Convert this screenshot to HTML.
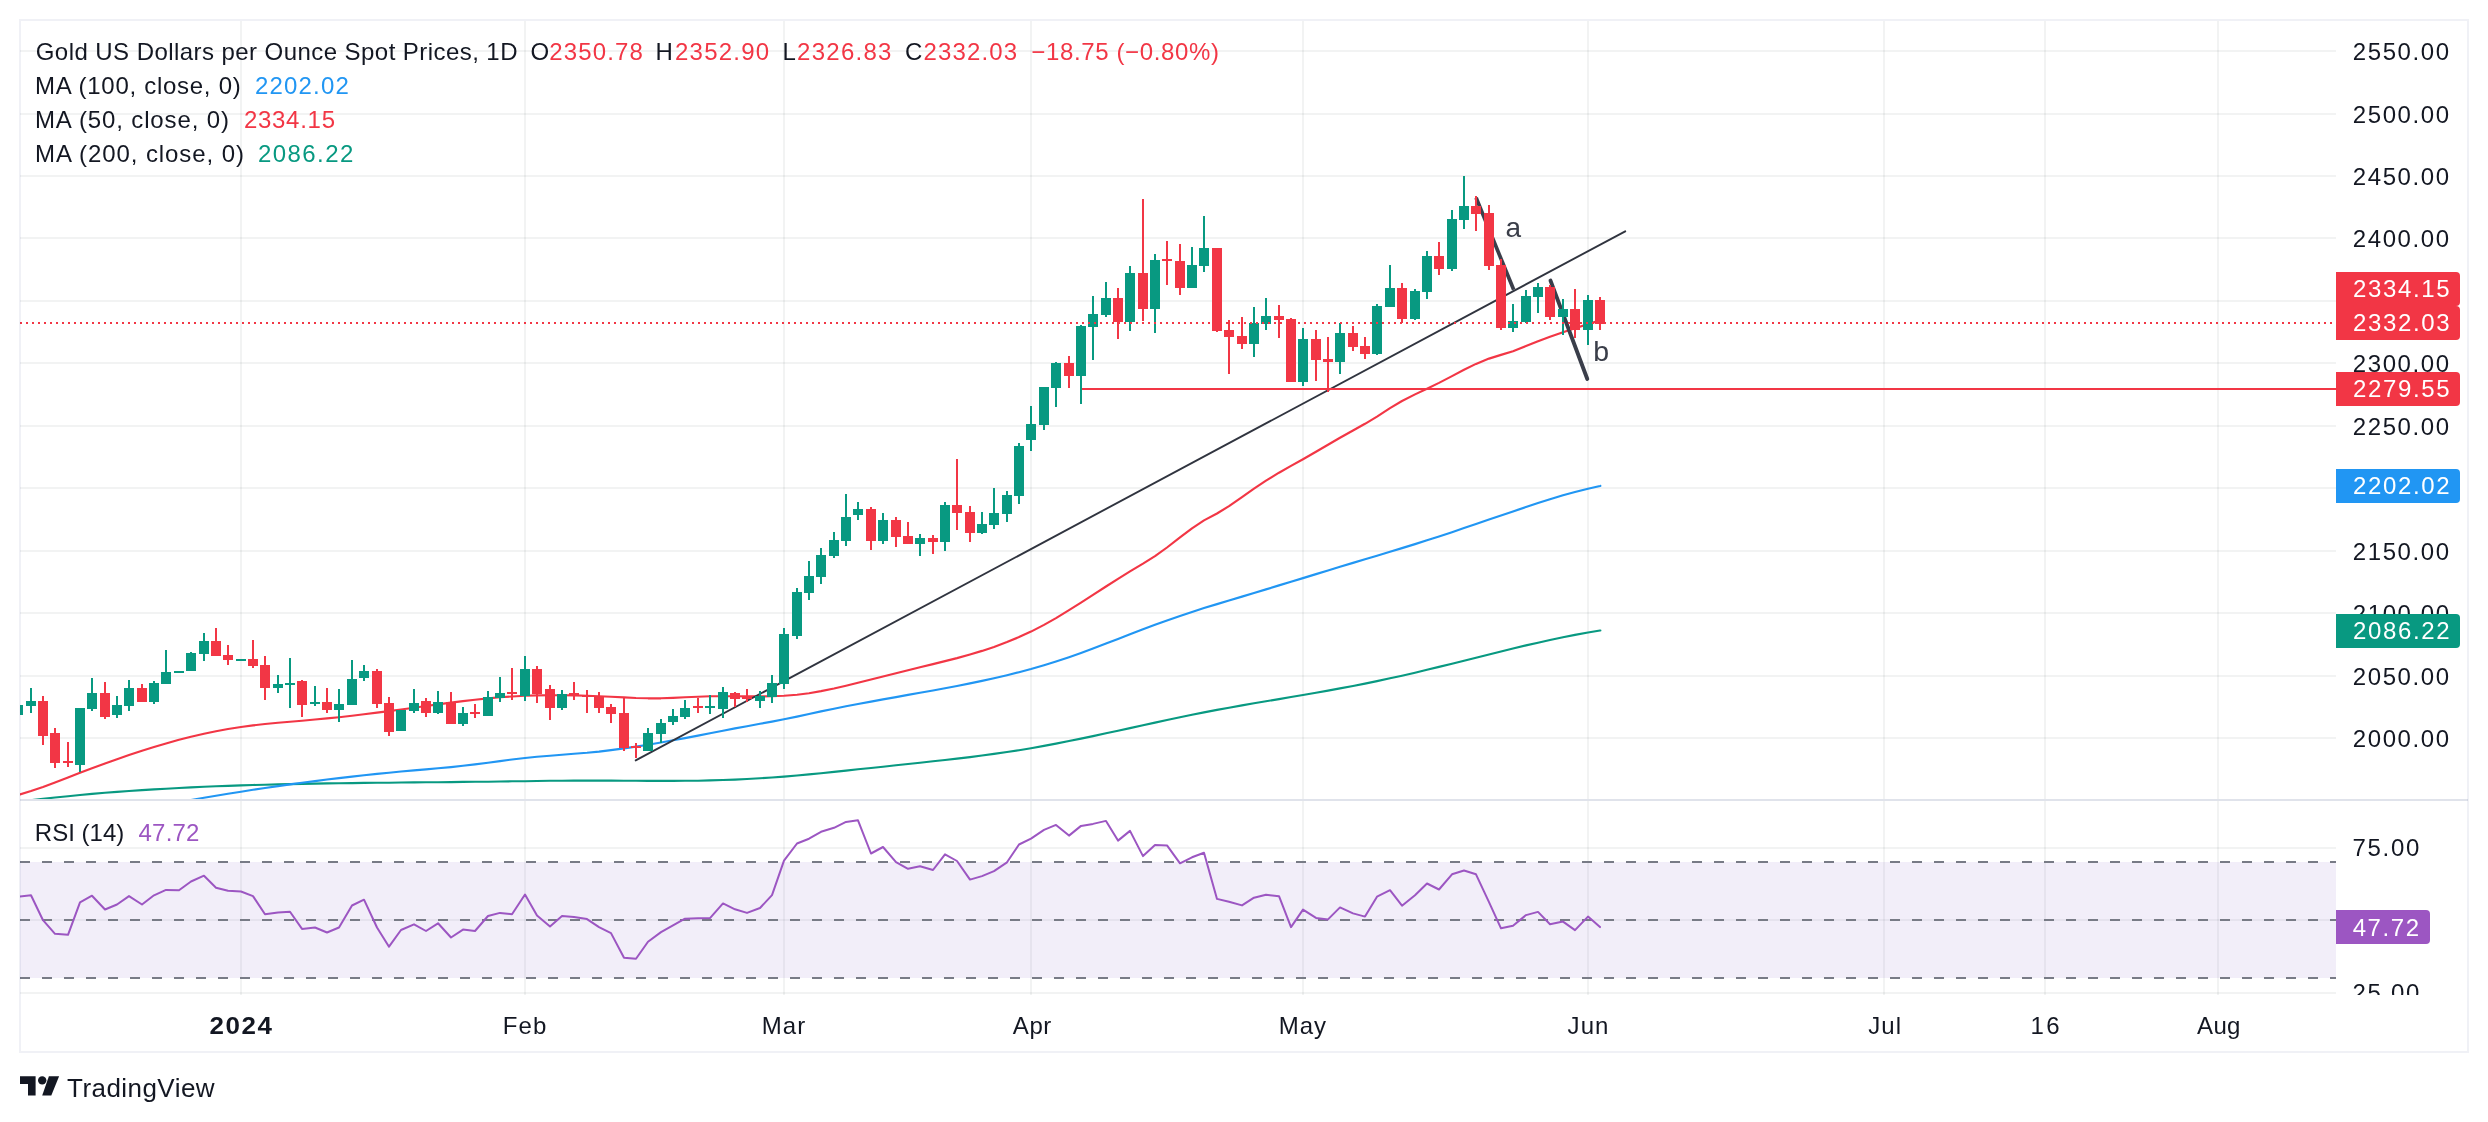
<!DOCTYPE html>
<html><head><meta charset="utf-8"><title>Gold chart</title>
<style>html,body{margin:0;padding:0;background:#fff}body{width:2488px;height:1122px;overflow:hidden}svg{display:block;position:absolute;left:0;top:0}text{font-family:"Liberation Sans",sans-serif;white-space:pre}svg{will-change:transform;transform:translateZ(0)}</style></head><body>
<svg width="2488" height="1122" viewBox="0 0 2488 1122">
<defs>
<clipPath id="cm"><rect x="20" y="21" width="2316" height="778"/></clipPath>
<clipPath id="cr"><rect x="20" y="801" width="2316" height="194"/></clipPath>
<clipPath id="cam"><rect x="2336" y="21" width="131" height="778"/></clipPath>
<clipPath id="car"><rect x="2336" y="801" width="131" height="194"/></clipPath>
</defs>
<rect x="0" y="0" width="2488" height="1122" fill="#fff"/>
<g fill="rgba(42,46,57,0.06)">
<rect x="240" y="21" width="2" height="778"/>
<rect x="240" y="801" width="2" height="194"/>
<rect x="524" y="21" width="2" height="778"/>
<rect x="524" y="801" width="2" height="194"/>
<rect x="783" y="21" width="2" height="778"/>
<rect x="783" y="801" width="2" height="194"/>
<rect x="1030" y="21" width="2" height="778"/>
<rect x="1030" y="801" width="2" height="194"/>
<rect x="1302" y="21" width="2" height="778"/>
<rect x="1302" y="801" width="2" height="194"/>
<rect x="1587" y="21" width="2" height="778"/>
<rect x="1587" y="801" width="2" height="194"/>
<rect x="1883" y="21" width="2" height="778"/>
<rect x="1883" y="801" width="2" height="194"/>
<rect x="2044" y="21" width="2" height="778"/>
<rect x="2044" y="801" width="2" height="194"/>
<rect x="2217" y="21" width="2" height="778"/>
<rect x="2217" y="801" width="2" height="194"/>
<rect x="20" y="737" width="2316" height="2"/>
<rect x="20" y="675" width="2316" height="2"/>
<rect x="20" y="612" width="2316" height="2"/>
<rect x="20" y="550" width="2316" height="2"/>
<rect x="20" y="487" width="2316" height="2"/>
<rect x="20" y="425" width="2316" height="2"/>
<rect x="20" y="362" width="2316" height="2"/>
<rect x="20" y="300" width="2316" height="2"/>
<rect x="20" y="237" width="2316" height="2"/>
<rect x="20" y="175" width="2316" height="2"/>
<rect x="20" y="113" width="2316" height="2"/>
<rect x="20" y="50" width="2316" height="2"/>
<rect x="20" y="847" width="2316" height="2"/>
<rect x="20" y="919" width="2316" height="2"/>
<rect x="20" y="992" width="2316" height="2"/>
</g>
<g clip-path="url(#cr)">
<rect x="20" y="862" width="2316" height="116" fill="rgba(126,87,194,0.1)"/>
<line x1="20" y1="862" x2="2336" y2="862" stroke="#787b86" stroke-width="2" stroke-dasharray="10 12"/>
<line x1="20" y1="920" x2="2336" y2="920" stroke="#787b86" stroke-width="2" stroke-dasharray="10 12"/>
<line x1="20" y1="978" x2="2336" y2="978" stroke="#787b86" stroke-width="2" stroke-dasharray="10 12"/>
<polyline points="18,896.8 31,895.3 43,920.2 55,933.8 68,934.8 80,902.4 92,895.7 105,909.5 117,904.5 129,896.1 142,904.5 154,895.3 166,889.9 179,890.3 191,881.5 204,875.7 216,887.8 228,890.7 241,891.5 253,896.1 265,914.3 278,912.4 290,911.8 302,928.9 315,927.5 327,932.5 339,927.5 352,905.5 364,899.7 377,927.5 389,946.7 401,930.0 414,924.3 426,931.0 438,923.3 451,937.5 463,929.6 475,931.0 488,916.0 500,912.9 512,914.3 525,894.5 537,915.6 550,926.4 562,916.0 574,917.0 587,919.1 599,927.1 611,933.1 624,957.8 636,958.8 648,941.7 661,932.1 673,925.4 685,918.7 698,918.3 710,918.1 723,903.4 735,909.3 747,912.9 760,908.0 772,895.1 784,860.6 797,843.5 809,838.7 821,831.8 834,827.8 846,821.9 858,820.3 871,853.5 883,847.0 896,862.1 908,868.8 920,866.2 933,870.0 945,854.3 957,861.0 970,879.6 982,876.1 994,871.1 1007,862.3 1019,844.5 1031,838.6 1044,829.9 1056,824.9 1069,835.6 1081,825.9 1093,823.9 1106,820.9 1118,840.6 1130,830.9 1143,856.1 1155,844.9 1167,845.4 1180,863.3 1192,857.3 1204,852.8 1217,898.9 1229,901.7 1242,905.4 1254,897.7 1266,894.7 1279,896.2 1291,927.1 1303,909.6 1316,917.9 1328,919.4 1340,907.4 1353,913.4 1365,916.6 1377,896.7 1390,890.2 1402,905.7 1415,895.2 1427,883.5 1439,889.5 1452,874.3 1464,870.5 1476,874.3 1489,902.2 1501,928.3 1513,925.8 1526,915.1 1538,911.9 1550,924.3 1563,921.6 1575,930.1 1588,916.6 1600,927.1" fill="none" stroke="#9c56c2" stroke-width="2.0" stroke-linejoin="round" stroke-linecap="round"/>
</g>
<g clip-path="url(#cm)">
<polyline points="20.0,801.5 31.0,800.2 43.0,798.8 55.0,797.5 68.0,796.2 80.0,795.0 92.0,793.9 105.0,792.8 117.0,791.9 129.0,791.0 142.0,790.1 154.0,789.4 166.0,788.7 179.0,788.0 191.0,787.4 204.0,786.8 216.0,786.3 228.0,785.9 241.0,785.4 253.0,785.0 265.0,784.7 278.0,784.4 290.0,784.1 302.0,783.9 315.0,783.6 327.0,783.4 339.0,783.2 352.0,783.1 364.0,782.9 377.0,782.8 389.0,782.7 401.0,782.5 414.0,782.4 426.0,782.3 438.0,782.2 451.0,782.1 463.0,781.9 475.0,781.8 488.0,781.7 500.0,781.5 512.0,781.3 525.0,781.2 537.0,781.0 550.0,780.8 562.0,780.7 574.0,780.6 587.0,780.6 599.0,780.6 611.0,780.6 624.0,780.7 636.0,780.8 648.0,780.9 661.0,780.9 673.0,780.9 685.0,780.8 698.0,780.7 710.0,780.4 723.0,780.0 735.0,779.6 747.0,779.0 760.0,778.3 772.0,777.5 784.0,776.6 797.0,775.5 809.0,774.4 821.0,773.2 834.0,771.9 846.0,770.6 858.0,769.3 871.0,768.0 883.0,766.7 896.0,765.3 908.0,764.0 920.0,762.7 933.0,761.3 945.0,760.0 957.0,758.6 970.0,757.1 982.0,755.5 994.0,753.9 1007.0,752.0 1019.0,750.2 1031.0,748.2 1044.0,745.9 1056.0,743.6 1069.0,741.0 1081.0,738.6 1093.0,736.1 1106.0,733.3 1118.0,730.7 1130.0,728.1 1143.0,725.2 1155.0,722.6 1167.0,720.0 1180.0,717.3 1192.0,714.8 1204.0,712.4 1217.0,709.9 1229.0,707.7 1242.0,705.4 1254.0,703.3 1266.0,701.3 1279.0,699.1 1291.0,697.0 1303.0,695.0 1316.0,692.7 1328.0,690.6 1340.0,688.4 1353.0,686.0 1365.0,683.6 1377.0,681.1 1390.0,678.3 1402.0,675.7 1415.0,672.7 1427.0,669.8 1439.0,666.9 1452.0,663.7 1464.0,660.8 1476.0,657.7 1489.0,654.5 1501.0,651.5 1513.0,648.5 1526.0,645.4 1538.0,642.7 1550.0,640.0 1563.0,637.3 1575.0,634.9 1588.0,632.5 1600.0,630.5 1600.4,630.5" fill="none" stroke="#089981" stroke-width="2.15" stroke-linejoin="round" stroke-linecap="round"/>
<polyline points="180.8,801.8 191.0,800.0 204.0,797.7 216.0,795.7 228.0,793.8 241.0,791.7 253.0,789.8 265.0,788.0 278.0,786.1 290.0,784.4 302.0,782.8 315.0,781.1 327.0,779.5 339.0,778.1 352.0,776.6 364.0,775.2 377.0,773.9 389.0,772.7 401.0,771.5 414.0,770.4 426.0,769.4 438.0,768.3 451.0,767.1 463.0,765.8 475.0,764.4 488.0,762.7 500.0,761.1 512.0,759.5 525.0,758.0 537.0,756.8 550.0,755.7 562.0,754.8 574.0,753.8 587.0,752.8 599.0,751.6 611.0,750.1 624.0,748.4 636.0,746.6 648.0,744.7 661.0,742.5 673.0,740.3 685.0,738.1 698.0,735.6 710.0,733.2 723.0,730.7 735.0,728.4 747.0,726.2 760.0,723.8 772.0,721.6 784.0,719.3 797.0,716.6 809.0,714.0 821.0,711.4 834.0,708.7 846.0,706.3 858.0,704.0 871.0,701.6 883.0,699.4 896.0,697.1 908.0,694.9 920.0,692.8 933.0,690.5 945.0,688.3 957.0,686.0 970.0,683.4 982.0,680.9 994.0,678.2 1007.0,675.2 1019.0,672.2 1031.0,669.0 1044.0,665.2 1056.0,661.5 1069.0,657.2 1081.0,653.0 1093.0,648.5 1106.0,643.6 1118.0,638.9 1130.0,634.3 1143.0,629.3 1155.0,624.7 1167.0,620.4 1180.0,615.9 1192.0,611.9 1204.0,608.1 1217.0,604.1 1229.0,600.5 1242.0,596.6 1254.0,593.0 1266.0,589.4 1279.0,585.4 1291.0,581.7 1303.0,578.1 1316.0,574.1 1328.0,570.5 1340.0,566.8 1353.0,562.9 1365.0,559.3 1377.0,555.7 1390.0,551.8 1402.0,548.1 1415.0,544.1 1427.0,540.3 1439.0,536.5 1452.0,532.2 1464.0,528.1 1476.0,524.0 1489.0,519.6 1501.0,515.5 1513.0,511.4 1526.0,507.0 1538.0,503.1 1550.0,499.3 1563.0,495.3 1575.0,492.0 1588.0,488.7 1600.0,486.0 1600.4,485.9" fill="none" stroke="#2196f3" stroke-width="2.15" stroke-linejoin="round" stroke-linecap="round"/>
<polyline points="20.0,794.4 31.0,791.0 43.0,786.9 55.0,782.5 68.0,777.5 80.0,772.8 92.0,768.3 105.0,763.5 117.0,759.2 129.0,755.1 142.0,750.8 154.0,747.0 166.0,743.5 179.0,739.8 191.0,736.7 204.0,733.7 216.0,731.2 228.0,729.0 241.0,727.0 253.0,725.4 265.0,724.0 278.0,722.8 290.0,721.7 302.0,720.7 315.0,719.5 327.0,718.4 339.0,717.2 352.0,715.7 364.0,714.3 377.0,712.6 389.0,711.1 401.0,709.5 414.0,707.7 426.0,706.0 438.0,704.4 451.0,702.6 463.0,701.1 475.0,699.7 488.0,698.4 500.0,697.3 512.0,696.5 525.0,695.8 537.0,695.4 550.0,695.2 562.0,695.2 574.0,695.4 587.0,695.7 599.0,696.2 611.0,696.7 624.0,697.4 636.0,698.0 648.0,698.3 661.0,698.3 673.0,697.9 685.0,697.3 698.0,696.7 710.0,696.3 723.0,696.2 735.0,696.3 747.0,696.4 760.0,696.4 772.0,696.3 784.0,695.8 797.0,694.7 809.0,693.2 821.0,691.1 834.0,688.5 846.0,685.7 858.0,682.8 871.0,679.5 883.0,676.5 896.0,673.2 908.0,670.2 920.0,667.3 933.0,664.1 945.0,661.1 957.0,658.1 970.0,654.5 982.0,650.9 994.0,646.9 1007.0,642.1 1019.0,637.1 1031.0,631.6 1044.0,624.9 1056.0,618.1 1069.0,610.2 1081.0,602.6 1093.0,594.9 1106.0,586.5 1118.0,578.8 1130.0,571.4 1143.0,563.7 1155.0,556.2 1167.0,547.5 1180.0,537.4 1192.0,528.3 1204.0,520.4 1217.0,513.5 1229.0,506.1 1242.0,497.1 1254.0,488.6 1266.0,480.6 1279.0,472.7 1291.0,465.9 1303.0,459.2 1316.0,451.7 1328.0,444.8 1340.0,437.8 1353.0,430.5 1365.0,423.8 1377.0,416.6 1390.0,408.1 1402.0,401.0 1415.0,394.4 1427.0,388.7 1439.0,382.9 1452.0,376.1 1464.0,369.8 1476.0,363.9 1489.0,358.6 1501.0,354.9 1513.0,351.2 1526.0,346.1 1538.0,341.2 1550.0,336.7 1563.0,332.2 1575.0,328.2 1588.0,324.1 1600.0,320.4 1600.1,320.4" fill="none" stroke="#f23645" stroke-width="2.15" stroke-linejoin="round" stroke-linecap="round"/>
<line x1="635.7" y1="760.4" x2="1625.2" y2="231.3" stroke="#30343f" stroke-width="1.9" stroke-linecap="round"/>
<line x1="1476.1" y1="197.8" x2="1513.7" y2="289.8" stroke="#3a3e4a" stroke-width="3.7" stroke-linecap="butt"/>
<line x1="1550.5" y1="280.6" x2="1587.3" y2="379.0" stroke="#3a3e4a" stroke-width="3.9" stroke-linecap="round"/>
<rect x="1081" y="388" width="1255" height="2" fill="#f23645"/>
<path fill="#089981" d="M17 705h2V715h-2zM13 705h10V715h-10z"/>
<path fill="#089981" d="M30 688h2V713h-2zM26 701h10V706h-10z"/>
<path fill="#f23645" d="M42 696h2V745h-2zM38 701h10V736h-10z"/>
<path fill="#f23645" d="M54 728h2V768h-2zM50 733h10V763h-10z"/>
<path fill="#f23645" d="M67 742h2V767h-2zM63 761h10V763h-10z"/>
<path fill="#089981" d="M79 708h2V772h-2zM75 708h10V765h-10z"/>
<path fill="#089981" d="M91 678h2V711h-2zM87 693h10V709h-10z"/>
<path fill="#f23645" d="M104 682h2V719h-2zM100 693h10V717h-10z"/>
<path fill="#089981" d="M116 696h2V718h-2zM112 705h10V715h-10z"/>
<path fill="#089981" d="M128 680h2V711h-2zM124 688h10V706h-10z"/>
<path fill="#f23645" d="M141 684h2V702h-2zM137 688h10V702h-10z"/>
<path fill="#089981" d="M153 681h2V704h-2zM149 683h10V702h-10z"/>
<path fill="#089981" d="M165 650h2V684h-2zM161 672h10V684h-10z"/>
<path fill="#089981" d="M178 671h2V673h-2zM174 671h10V673h-10z"/>
<path fill="#089981" d="M190 652h2V671h-2zM186 653h10V671h-10z"/>
<path fill="#089981" d="M203 633h2V661h-2zM199 641h10V654h-10z"/>
<path fill="#f23645" d="M215 628h2V656h-2zM211 641h10V656h-10z"/>
<path fill="#f23645" d="M227 645h2V665h-2zM223 655h10V660h-10z"/>
<path fill="#089981" d="M240 659h2V661h-2zM236 659h10V661h-10z"/>
<path fill="#f23645" d="M252 640h2V668h-2zM248 659h10V666h-10z"/>
<path fill="#f23645" d="M264 656h2V700h-2zM260 665h10V688h-10z"/>
<path fill="#089981" d="M277 675h2V693h-2zM273 684h10V688h-10z"/>
<path fill="#089981" d="M289 658h2V708h-2zM285 683h10V685h-10z"/>
<path fill="#f23645" d="M301 680h2V717h-2zM297 681h10V705h-10z"/>
<path fill="#089981" d="M314 686h2V706h-2zM310 702h10V704h-10z"/>
<path fill="#f23645" d="M326 688h2V713h-2zM322 702h10V710h-10z"/>
<path fill="#089981" d="M338 689h2V722h-2zM334 704h10V710h-10z"/>
<path fill="#089981" d="M351 660h2V705h-2zM347 679h10V705h-10z"/>
<path fill="#089981" d="M363 665h2V681h-2zM359 671h10V678h-10z"/>
<path fill="#f23645" d="M376 669h2V708h-2zM372 671h10V704h-10z"/>
<path fill="#f23645" d="M388 697h2V736h-2zM384 703h10V732h-10z"/>
<path fill="#089981" d="M400 710h2V731h-2zM396 710h10V731h-10z"/>
<path fill="#089981" d="M413 689h2V713h-2zM409 703h10V711h-10z"/>
<path fill="#f23645" d="M425 698h2V717h-2zM421 701h10V713h-10z"/>
<path fill="#089981" d="M437 691h2V714h-2zM433 702h10V713h-10z"/>
<path fill="#f23645" d="M450 692h2V724h-2zM446 702h10V724h-10z"/>
<path fill="#089981" d="M462 707h2V726h-2zM458 713h10V724h-10z"/>
<path fill="#f23645" d="M474 704h2V718h-2zM470 712h10V714h-10z"/>
<path fill="#089981" d="M487 691h2V716h-2zM483 697h10V716h-10z"/>
<path fill="#089981" d="M499 677h2V702h-2zM495 693h10V698h-10z"/>
<path fill="#f23645" d="M511 668h2V700h-2zM507 692h10V694h-10z"/>
<path fill="#089981" d="M524 656h2V701h-2zM520 669h10V696h-10z"/>
<path fill="#f23645" d="M536 666h2V703h-2zM532 669h10V694h-10z"/>
<path fill="#f23645" d="M549 685h2V720h-2zM545 689h10V708h-10z"/>
<path fill="#089981" d="M561 690h2V710h-2zM557 694h10V708h-10z"/>
<path fill="#f23645" d="M573 682h2V700h-2zM569 693h10V695h-10z"/>
<path fill="#f23645" d="M586 690h2V713h-2zM582 695h10V697h-10z"/>
<path fill="#f23645" d="M598 692h2V713h-2zM594 696h10V708h-10z"/>
<path fill="#f23645" d="M610 704h2V723h-2zM606 707h10V714h-10z"/>
<path fill="#f23645" d="M623 698h2V751h-2zM619 713h10V748h-10z"/>
<path fill="#f23645" d="M635 743h2V758h-2zM631 746h10V748h-10z"/>
<path fill="#089981" d="M647 728h2V751h-2zM643 733h10V751h-10z"/>
<path fill="#089981" d="M660 719h2V743h-2zM656 723h10V734h-10z"/>
<path fill="#089981" d="M672 709h2V725h-2zM668 716h10V722h-10z"/>
<path fill="#089981" d="M684 700h2V719h-2zM680 708h10V717h-10z"/>
<path fill="#f23645" d="M697 698h2V713h-2zM693 706h10V708h-10z"/>
<path fill="#089981" d="M709 695h2V714h-2zM705 706h10V708h-10z"/>
<path fill="#089981" d="M722 687h2V718h-2zM718 692h10V709h-10z"/>
<path fill="#f23645" d="M734 692h2V707h-2zM730 693h10V699h-10z"/>
<path fill="#f23645" d="M746 689h2V702h-2zM742 697h10V699h-10z"/>
<path fill="#089981" d="M759 691h2V708h-2zM755 696h10V701h-10z"/>
<path fill="#089981" d="M771 675h2V703h-2zM767 683h10V697h-10z"/>
<path fill="#089981" d="M783 628h2V689h-2zM779 634h10V684h-10z"/>
<path fill="#089981" d="M796 588h2V639h-2zM792 592h10V636h-10z"/>
<path fill="#089981" d="M808 561h2V600h-2zM804 576h10V593h-10z"/>
<path fill="#089981" d="M820 548h2V584h-2zM816 555h10V577h-10z"/>
<path fill="#089981" d="M833 532h2V558h-2zM829 540h10V556h-10z"/>
<path fill="#089981" d="M845 494h2V546h-2zM841 517h10V541h-10z"/>
<path fill="#089981" d="M857 502h2V520h-2zM853 509h10V515h-10z"/>
<path fill="#f23645" d="M870 507h2V550h-2zM866 509h10V541h-10z"/>
<path fill="#089981" d="M882 513h2V544h-2zM878 520h10V541h-10z"/>
<path fill="#f23645" d="M895 517h2V547h-2zM891 520h10V537h-10z"/>
<path fill="#f23645" d="M907 522h2V544h-2zM903 536h10V544h-10z"/>
<path fill="#089981" d="M919 534h2V556h-2zM915 538h10V544h-10z"/>
<path fill="#f23645" d="M932 535h2V554h-2zM928 538h10V542h-10z"/>
<path fill="#089981" d="M944 502h2V551h-2zM940 505h10V542h-10z"/>
<path fill="#f23645" d="M956 459h2V530h-2zM952 505h10V513h-10z"/>
<path fill="#f23645" d="M969 506h2V542h-2zM965 512h10V533h-10z"/>
<path fill="#089981" d="M981 512h2V534h-2zM977 524h10V533h-10z"/>
<path fill="#089981" d="M993 488h2V529h-2zM989 513h10V525h-10z"/>
<path fill="#089981" d="M1006 491h2V522h-2zM1002 495h10V514h-10z"/>
<path fill="#089981" d="M1018 443h2V504h-2zM1014 446h10V496h-10z"/>
<path fill="#089981" d="M1030 406h2V451h-2zM1026 424h10V440h-10z"/>
<path fill="#089981" d="M1043 387h2V430h-2zM1039 387h10V425h-10z"/>
<path fill="#089981" d="M1055 362h2V407h-2zM1051 363h10V388h-10z"/>
<path fill="#f23645" d="M1068 356h2V388h-2zM1064 363h10V376h-10z"/>
<path fill="#089981" d="M1080 325h2V404h-2zM1076 326h10V376h-10z"/>
<path fill="#089981" d="M1092 296h2V360h-2zM1088 314h10V327h-10z"/>
<path fill="#089981" d="M1105 282h2V317h-2zM1101 298h10V315h-10z"/>
<path fill="#f23645" d="M1117 288h2V339h-2zM1113 298h10V322h-10z"/>
<path fill="#089981" d="M1129 266h2V331h-2zM1125 273h10V322h-10z"/>
<path fill="#f23645" d="M1142 199h2V321h-2zM1138 273h10V309h-10z"/>
<path fill="#089981" d="M1154 254h2V333h-2zM1150 260h10V309h-10z"/>
<path fill="#f23645" d="M1166 241h2V285h-2zM1162 259h10V261h-10z"/>
<path fill="#f23645" d="M1179 244h2V295h-2zM1175 261h10V288h-10z"/>
<path fill="#089981" d="M1191 247h2V288h-2zM1187 265h10V288h-10z"/>
<path fill="#089981" d="M1203 216h2V272h-2zM1199 248h10V266h-10z"/>
<path fill="#f23645" d="M1216 248h2V332h-2zM1212 248h10V331h-10z"/>
<path fill="#f23645" d="M1228 320h2V374h-2zM1224 330h10V337h-10z"/>
<path fill="#f23645" d="M1241 317h2V349h-2zM1237 336h10V344h-10z"/>
<path fill="#089981" d="M1253 307h2V357h-2zM1249 323h10V344h-10z"/>
<path fill="#089981" d="M1265 298h2V330h-2zM1261 316h10V324h-10z"/>
<path fill="#f23645" d="M1278 305h2V338h-2zM1274 316h10V320h-10z"/>
<path fill="#f23645" d="M1290 318h2V382h-2zM1286 319h10V382h-10z"/>
<path fill="#089981" d="M1302 328h2V386h-2zM1298 339h10V382h-10z"/>
<path fill="#f23645" d="M1315 330h2V381h-2zM1311 339h10V360h-10z"/>
<path fill="#f23645" d="M1327 337h2V392h-2zM1323 359h10V362h-10z"/>
<path fill="#089981" d="M1339 323h2V374h-2zM1335 333h10V362h-10z"/>
<path fill="#f23645" d="M1352 326h2V351h-2zM1348 333h10V347h-10z"/>
<path fill="#f23645" d="M1364 337h2V359h-2zM1360 346h10V354h-10z"/>
<path fill="#089981" d="M1376 304h2V355h-2zM1372 306h10V354h-10z"/>
<path fill="#089981" d="M1389 265h2V307h-2zM1385 288h10V307h-10z"/>
<path fill="#f23645" d="M1401 283h2V323h-2zM1397 288h10V319h-10z"/>
<path fill="#089981" d="M1414 289h2V320h-2zM1410 291h10V319h-10z"/>
<path fill="#089981" d="M1426 251h2V299h-2zM1422 256h10V292h-10z"/>
<path fill="#f23645" d="M1438 242h2V275h-2zM1434 256h10V269h-10z"/>
<path fill="#089981" d="M1451 210h2V271h-2zM1447 219h10V269h-10z"/>
<path fill="#089981" d="M1463 176h2V229h-2zM1459 206h10V220h-10z"/>
<path fill="#f23645" d="M1475 196h2V231h-2zM1471 206h10V214h-10z"/>
<path fill="#f23645" d="M1488 205h2V270h-2zM1484 213h10V266h-10z"/>
<path fill="#f23645" d="M1500 259h2V330h-2zM1496 265h10V328h-10z"/>
<path fill="#089981" d="M1512 304h2V332h-2zM1508 321h10V328h-10z"/>
<path fill="#089981" d="M1525 290h2V323h-2zM1521 296h10V322h-10z"/>
<path fill="#089981" d="M1537 283h2V313h-2zM1533 287h10V297h-10z"/>
<path fill="#f23645" d="M1549 285h2V320h-2zM1545 287h10V317h-10z"/>
<path fill="#089981" d="M1562 299h2V335h-2zM1558 309h10V317h-10z"/>
<path fill="#f23645" d="M1574 289h2V338h-2zM1570 309h10V330h-10z"/>
<path fill="#089981" d="M1587 295h2V345h-2zM1583 300h10V330h-10z"/>
<path fill="#f23645" d="M1599 297h2V330h-2zM1595 300h10V324h-10z"/>
<line x1="20" y1="323" x2="2336" y2="323" stroke="#f23645" stroke-width="2" stroke-dasharray="2 4"/>
</g>
<text x="1505.38" y="237.00" fill="#3a3e49" font-size="28" style="letter-spacing:0.000px" >a</text>
<text x="1593.25" y="360.80" fill="#3a3e49" font-size="28.5" style="letter-spacing:0.000px" >b</text>
<text x="35.77" y="60.00" fill="#131722" font-size="24" style="letter-spacing:0.438px" >Gold US Dollars per Ounce Spot Prices, 1D</text>
<text x="530.48" y="60.00" fill="#131722" font-size="24" style="letter-spacing:0.000px" >O</text>
<text x="549.17" y="60.00" fill="#f23645" font-size="24" style="letter-spacing:1.163px" >2350.78</text>
<text x="655.52" y="60.00" fill="#131722" font-size="24" style="letter-spacing:0.000px" >H</text>
<text x="674.98" y="60.00" fill="#f23645" font-size="24" style="letter-spacing:1.242px" >2352.90</text>
<text x="782.62" y="60.00" fill="#131722" font-size="24" style="letter-spacing:0.000px" >L</text>
<text x="797.08" y="60.00" fill="#f23645" font-size="24" style="letter-spacing:1.262px" >2326.83</text>
<text x="904.98" y="60.00" fill="#131722" font-size="24" style="letter-spacing:0.000px" >C</text>
<text x="923.38" y="60.00" fill="#f23645" font-size="24" style="letter-spacing:1.179px" >2332.03</text>
<text x="1031.28" y="60.00" fill="#f23645" font-size="24" style="letter-spacing:0.639px" >−18.75 (−0.80%)</text>
<text x="35.02" y="94.00" fill="#131722" font-size="24" style="letter-spacing:0.722px" >MA (100, close, 0)</text>
<text x="255.07" y="94.00" fill="#2196f3" font-size="24" style="letter-spacing:1.167px" >2202.02</text>
<text x="35.02" y="128.00" fill="#131722" font-size="24" style="letter-spacing:0.864px" >MA (50, close, 0)</text>
<text x="243.88" y="128.00" fill="#f23645" font-size="24" style="letter-spacing:0.729px" >2334.15</text>
<text x="35.02" y="162.00" fill="#131722" font-size="24" style="letter-spacing:0.910px" >MA (200, close, 0)</text>
<text x="258.07" y="162.00" fill="#089981" font-size="24" style="letter-spacing:1.417px" >2086.22</text>
<text x="34.83" y="841.00" fill="#131722" font-size="24" style="letter-spacing:0.025px" >RSI (14)</text>
<text x="138.60" y="841.00" fill="#9c56c2" font-size="24" style="letter-spacing:0.175px" >47.72</text>
<g clip-path="url(#cam)">
<text x="2352.78" y="746.60" fill="#131722" font-size="24" style="letter-spacing:1.592px" >2000.00</text>
<text x="2352.78" y="684.60" fill="#131722" font-size="24" style="letter-spacing:1.592px" >2050.00</text>
<text x="2352.78" y="621.60" fill="#131722" font-size="24" style="letter-spacing:1.592px" >2100.00</text>
<text x="2352.78" y="559.60" fill="#131722" font-size="24" style="letter-spacing:1.592px" >2150.00</text>
<text x="2352.78" y="496.60" fill="#131722" font-size="24" style="letter-spacing:1.592px" >2200.00</text>
<text x="2352.78" y="434.60" fill="#131722" font-size="24" style="letter-spacing:1.592px" >2250.00</text>
<text x="2352.78" y="371.60" fill="#131722" font-size="24" style="letter-spacing:1.592px" >2300.00</text>
<text x="2352.78" y="309.60" fill="#131722" font-size="24" style="letter-spacing:1.592px" >2350.00</text>
<text x="2352.78" y="246.60" fill="#131722" font-size="24" style="letter-spacing:1.592px" >2400.00</text>
<text x="2352.78" y="184.60" fill="#131722" font-size="24" style="letter-spacing:1.592px" >2450.00</text>
<text x="2352.78" y="122.60" fill="#131722" font-size="24" style="letter-spacing:1.592px" >2500.00</text>
<text x="2352.78" y="59.60" fill="#131722" font-size="24" style="letter-spacing:1.592px" >2550.00</text>
<path fill="#2196f3" d="M2336 469H2456a4 4 0 0 1 4 4V499a4 4 0 0 1 -4 4H2336z"/>
<text x="2353.07" y="494.00" fill="#fff" font-size="24" style="letter-spacing:1.633px" >2202.02</text>
<path fill="#089981" d="M2336 614H2456a4 4 0 0 1 4 4V644a4 4 0 0 1 -4 4H2336z"/>
<text x="2353.07" y="639.00" fill="#fff" font-size="24" style="letter-spacing:1.633px" >2086.22</text>
<path fill="#f23645" d="M2336 372H2456a4 4 0 0 1 4 4V402a4 4 0 0 1 -4 4H2336z"/>
<text x="2353.07" y="397.00" fill="#fff" font-size="24" style="letter-spacing:1.613px" >2279.55</text>
<path fill="#f23645" d="M2336 272H2456a4 4 0 0 1 4 4V302a4 4 0 0 1 -4 4H2336z"/>
<text x="2353.07" y="297.00" fill="#fff" font-size="24" style="letter-spacing:1.613px" >2334.15</text>
<path fill="#f23645" d="M2336 306H2456a4 4 0 0 1 4 4V336a4 4 0 0 1 -4 4H2336z"/>
<text x="2353.07" y="331.00" fill="#fff" font-size="24" style="letter-spacing:1.613px" >2332.03</text>
</g>
<g clip-path="url(#car)">
<text x="2352.47" y="855.80" fill="#131722" font-size="24" style="letter-spacing:1.719px" >75.00</text>
<text x="2352.47" y="1000.80" fill="#131722" font-size="24" style="letter-spacing:1.719px" >25.00</text>
<path fill="#9c56c2" d="M2336 910H2426a4 4 0 0 1 4 4V940a4 4 0 0 1 -4 4H2336z"/>
<text x="2352.70" y="935.90" fill="#fff" font-size="24" style="letter-spacing:1.575px" >47.72</text>
</g>
<text transform="translate(209.51 1034.20) scale(1.06 1)" fill="#131722" font-size="24.5" font-weight="700" style="letter-spacing:1.465px" >2024</text>
<text x="502.77" y="1034.40" fill="#131722" font-size="24" style="letter-spacing:1.100px" >Feb</text>
<text x="761.72" y="1034.40" fill="#131722" font-size="24" style="letter-spacing:1.138px" >Mar</text>
<text x="1012.80" y="1034.40" fill="#131722" font-size="24" style="letter-spacing:0.600px" >Apr</text>
<text x="1278.78" y="1034.40" fill="#131722" font-size="24" style="letter-spacing:1.000px" >May</text>
<text x="1567.62" y="1034.40" fill="#131722" font-size="24" style="letter-spacing:1.062px" >Jun</text>
<text x="1868.27" y="1034.40" fill="#131722" font-size="24" style="letter-spacing:1.075px" >Jul</text>
<text x="2030.50" y="1034.40" fill="#131722" font-size="24" style="letter-spacing:2.500px" >16</text>
<text x="2197.00" y="1034.40" fill="#131722" font-size="24" style="letter-spacing:0.375px" >Aug</text>
<rect x="20" y="799" width="2448" height="2" fill="#e0e3eb"/>
<path fill="rgba(0,20,100,0.06)" d="M19 19H2469V1053H19zM21 21V1051H2467V21z" fill-rule="evenodd"/>
<g fill="#131722">
<path d="M20 1076.2H35.6V1095.5H28V1084H20z"/>
<circle cx="42.2" cy="1080.4" r="4.2"/>
<path d="M48.9 1076.2H59.1L51.3 1095.5H42.2z"/>
</g>
<text x="67.10" y="1096.70" fill="#131722" font-size="26" style="letter-spacing:0.438px" >TradingView</text>
</svg></body></html>
